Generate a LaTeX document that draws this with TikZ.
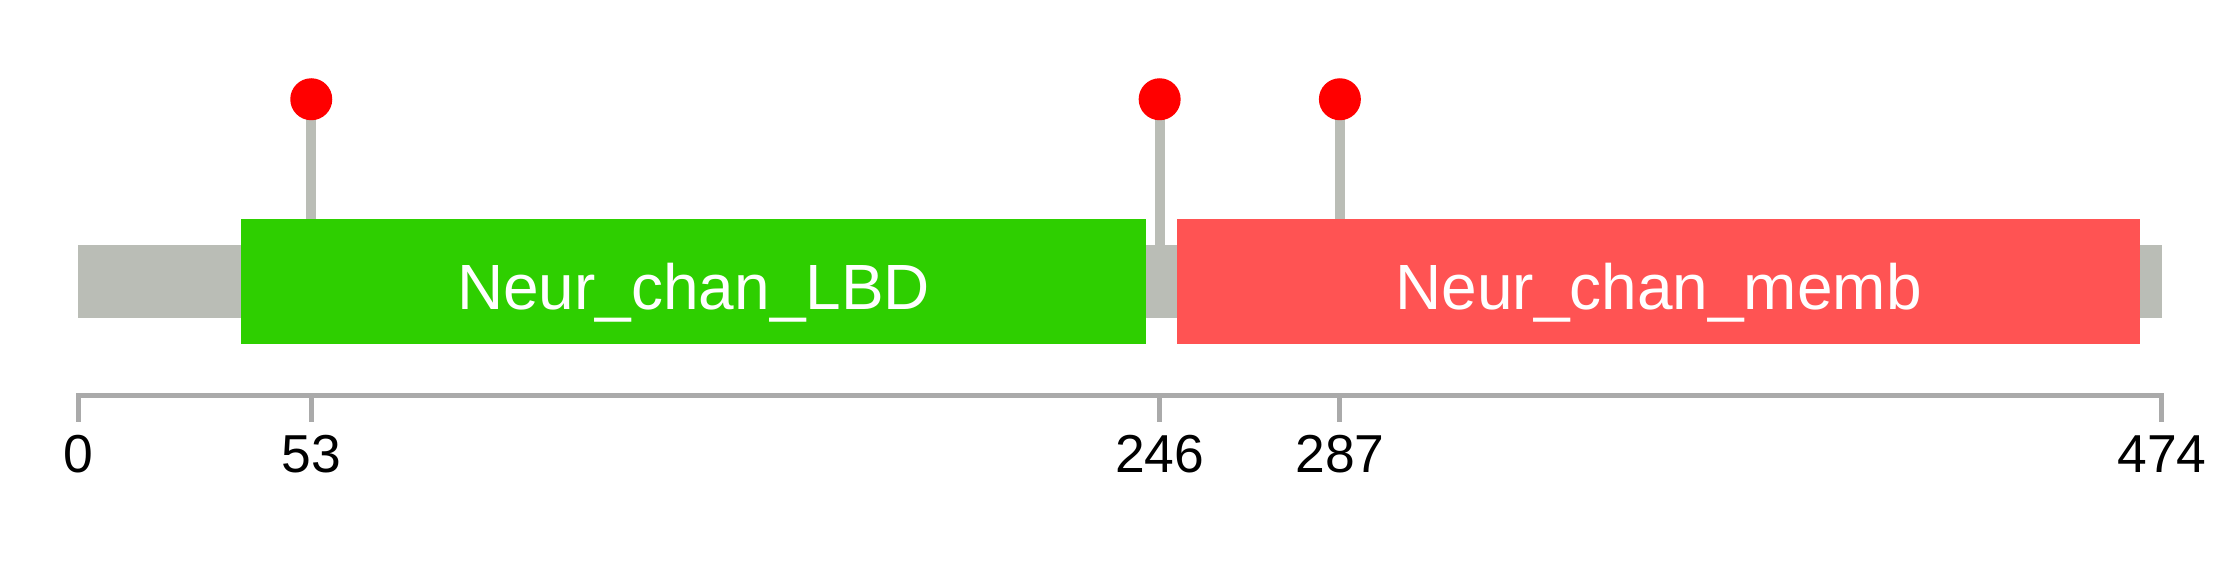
\documentclass[tikz,border=0pt]{standalone}
\usepackage{fontspec}
\setmainfont{Liberation Sans}
\definecolor{bargray}{HTML}{BABDB6}
\definecolor{axisgray}{HTML}{AAAAAA}
\definecolor{lbdgreen}{HTML}{2ECF00}
\definecolor{membred}{HTML}{FF5353}
\definecolor{mutred}{HTML}{FF0000}
\tikzset{
  stick/.style={draw=bargray, line width=0.1cm},
  mut/.style={circle, fill=mutred, inner sep=0pt, minimum size=0.42cm},
  axisline/.style={draw=axisgray, line width=0.05cm},
  domtext/.style={anchor=base, text=white, font=\fontsize{18.2}{20}\selectfont},
  ticklabel/.style={anchor=base, font=\fontsize{15.2}{17}\selectfont}
}
\begin{document}
\begin{tikzpicture}[x=0.04396cm, y=-0.01cm]
  \useasboundingbox (-17.81,0) rectangle (491.54,578);
  % backbone and domains
  \fill[bargray] (0,245) rectangle (474,318.3);
  \fill[lbdgreen] (37,219.3) rectangle (243,344.3);
  \fill[membred] (250,219.3) rectangle (469,344.3);
  \node[domtext] (lbd) at (140,309.3) {Neur\_chan\_LBD};
  \node[domtext] (memb) at (359.5,309.3) {Neur\_chan\_memb};
  % mutation sites
  \foreach \pos/\base in {53/219.3, 246/245, 287/219.3} {
    \coordinate (s\pos) at (\pos,\base);
    \draw[stick] (s\pos) -- (\pos,99.3) node[mut] (m\pos) {};
  }
  % axis
  \draw[axisline] (0,422) -- (0,396) -- (474,396) -- (474,422);
  \foreach \pos in {0,53,246,287,474} {
    \draw[axisline] (\pos,396) -- (\pos,422);
    \node[ticklabel] (t\pos) at (\pos,473) {\pos};
  }
\end{tikzpicture}
\end{document}
